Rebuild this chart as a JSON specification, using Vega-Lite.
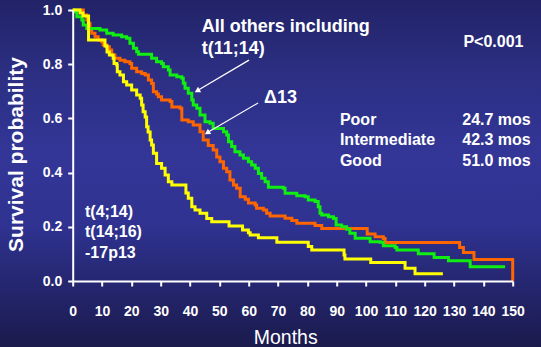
{
  "$schema": "https://vega.github.io/schema/vega-lite/v6.json",
  "width": 440,
  "height": 271,
  "autosize": {"type": "none"},
  "padding": {"left": 72.7, "top": 10, "right": 28.3, "bottom": 66},
  "background": "#2a2c80",
  "config": {"view": {"stroke": null}, "font": "Liberation Sans"},
  "resolve": {"axis": {"x": "independent", "y": "independent"}},
  "datasets": {
    "km": [
      {"g":"Intermediate","t":0,"s":1},
      {"g":"Intermediate","t":3.6,"s":0.982},
      {"g":"Intermediate","t":4.8,"s":0.963},
      {"g":"Intermediate","t":5.3,"s":0.951},
      {"g":"Intermediate","t":5.9,"s":0.926},
      {"g":"Intermediate","t":6.5,"s":0.914},
      {"g":"Intermediate","t":7.6,"s":0.901},
      {"g":"Intermediate","t":8.7,"s":0.889},
      {"g":"Intermediate","t":9.9,"s":0.883},
      {"g":"Intermediate","t":10.4,"s":0.871},
      {"g":"Intermediate","t":11.6,"s":0.864},
      {"g":"Intermediate","t":12.5,"s":0.852},
      {"g":"Intermediate","t":13.3,"s":0.834},
      {"g":"Intermediate","t":14.4,"s":0.822},
      {"g":"Intermediate","t":16.1,"s":0.815},
      {"g":"Intermediate","t":17.8,"s":0.809},
      {"g":"Intermediate","t":19.5,"s":0.803},
      {"g":"Intermediate","t":20.1,"s":0.785},
      {"g":"Intermediate","t":21.8,"s":0.772},
      {"g":"Intermediate","t":23.5,"s":0.766},
      {"g":"Intermediate","t":24.7,"s":0.760},
      {"g":"Intermediate","t":25.8,"s":0.742},
      {"g":"Intermediate","t":26.9,"s":0.729},
      {"g":"Intermediate","t":27.5,"s":0.698},
      {"g":"Intermediate","t":28.6,"s":0.690},
      {"g":"Intermediate","t":29.2,"s":0.680},
      {"g":"Intermediate","t":30.3,"s":0.668},
      {"g":"Intermediate","t":33.2,"s":0.662},
      {"g":"Intermediate","t":33.8,"s":0.642},
      {"g":"Intermediate","t":36.6,"s":0.637},
      {"g":"Intermediate","t":37.2,"s":0.594},
      {"g":"Intermediate","t":39.4,"s":0.588},
      {"g":"Intermediate","t":41.1,"s":0.576},
      {"g":"Intermediate","t":43.4,"s":0.551},
      {"g":"Intermediate","t":44.5,"s":0.520},
      {"g":"Intermediate","t":46.2,"s":0.500},
      {"g":"Intermediate","t":47.9,"s":0.483},
      {"g":"Intermediate","t":49.1,"s":0.458},
      {"g":"Intermediate","t":50.2,"s":0.440},
      {"g":"Intermediate","t":51.4,"s":0.416},
      {"g":"Intermediate","t":52.5,"s":0.403},
      {"g":"Intermediate","t":53.6,"s":0.373},
      {"g":"Intermediate","t":54.8,"s":0.354},
      {"g":"Intermediate","t":55.9,"s":0.342},
      {"g":"Intermediate","t":57.1,"s":0.311},
      {"g":"Intermediate","t":58.8,"s":0.302},
      {"g":"Intermediate","t":59.9,"s":0.288},
      {"g":"Intermediate","t":62.2,"s":0.280},
      {"g":"Intermediate","t":62.7,"s":0.268},
      {"g":"Intermediate","t":65.0,"s":0.262},
      {"g":"Intermediate","t":66.1,"s":0.250},
      {"g":"Intermediate","t":67.3,"s":0.240},
      {"g":"Intermediate","t":72.4,"s":0.232},
      {"g":"Intermediate","t":74.7,"s":0.223},
      {"g":"Intermediate","t":76.4,"s":0.213},
      {"g":"Intermediate","t":82.6,"s":0.205},
      {"g":"Intermediate","t":84.9,"s":0.194},
      {"g":"Intermediate","t":100.4,"s":0.173},
      {"g":"Intermediate","t":103.1,"s":0.163},
      {"g":"Intermediate","t":105.9,"s":0.157},
      {"g":"Intermediate","t":106.5,"s":0.142},
      {"g":"Intermediate","t":131.9,"s":0.124},
      {"g":"Intermediate","t":133.2,"s":0.105},
      {"g":"Intermediate","t":136.8,"s":0.079},
      {"g":"Intermediate","t":150,"s":0},
      {"g":"Good","t":0,"s":1},
      {"g":"Good","t":0.8,"s":0.994},
      {"g":"Good","t":1.4,"s":0.975},
      {"g":"Good","t":3.1,"s":0.963},
      {"g":"Good","t":3.6,"s":0.945},
      {"g":"Good","t":4.8,"s":0.932},
      {"g":"Good","t":9.3,"s":0.926},
      {"g":"Good","t":11.6,"s":0.914},
      {"g":"Good","t":13.8,"s":0.908},
      {"g":"Good","t":16.7,"s":0.901},
      {"g":"Good","t":18.4,"s":0.896},
      {"g":"Good","t":19.5,"s":0.877},
      {"g":"Good","t":20.7,"s":0.859},
      {"g":"Good","t":21.8,"s":0.846},
      {"g":"Good","t":22.4,"s":0.837},
      {"g":"Good","t":26.9,"s":0.822},
      {"g":"Good","t":28.6,"s":0.809},
      {"g":"Good","t":30.3,"s":0.803},
      {"g":"Good","t":30.9,"s":0.791},
      {"g":"Good","t":32.6,"s":0.779},
      {"g":"Good","t":33.2,"s":0.760},
      {"g":"Good","t":35.5,"s":0.754},
      {"g":"Good","t":37.2,"s":0.748},
      {"g":"Good","t":37.7,"s":0.730},
      {"g":"Good","t":38.3,"s":0.711},
      {"g":"Good","t":39.4,"s":0.693},
      {"g":"Good","t":40.6,"s":0.668},
      {"g":"Good","t":41.1,"s":0.649},
      {"g":"Good","t":42.3,"s":0.637},
      {"g":"Good","t":43.4,"s":0.613},
      {"g":"Good","t":45.1,"s":0.588},
      {"g":"Good","t":46.8,"s":0.582},
      {"g":"Good","t":47.9,"s":0.563},
      {"g":"Good","t":51.4,"s":0.551},
      {"g":"Good","t":52.5,"s":0.539},
      {"g":"Good","t":53.1,"s":0.514},
      {"g":"Good","t":54.2,"s":0.496},
      {"g":"Good","t":55.3,"s":0.477},
      {"g":"Good","t":57.0,"s":0.465},
      {"g":"Good","t":58.2,"s":0.453},
      {"g":"Good","t":59.9,"s":0.440},
      {"g":"Good","t":61.0,"s":0.428},
      {"g":"Good","t":62.2,"s":0.416},
      {"g":"Good","t":63.3,"s":0.397},
      {"g":"Good","t":64.4,"s":0.379},
      {"g":"Good","t":65.6,"s":0.366},
      {"g":"Good","t":66.7,"s":0.346},
      {"g":"Good","t":71.8,"s":0.342},
      {"g":"Good","t":72.4,"s":0.324},
      {"g":"Good","t":76.4,"s":0.315},
      {"g":"Good","t":79.2,"s":0.311},
      {"g":"Good","t":80.3,"s":0.299},
      {"g":"Good","t":82.6,"s":0.293},
      {"g":"Good","t":83.7,"s":0.274},
      {"g":"Good","t":84.3,"s":0.250},
      {"g":"Good","t":84.9,"s":0.244},
      {"g":"Good","t":87.2,"s":0.237},
      {"g":"Good","t":88.9,"s":0.231},
      {"g":"Good","t":89.8,"s":0.207},
      {"g":"Good","t":91.7,"s":0.200},
      {"g":"Good","t":93.4,"s":0.191},
      {"g":"Good","t":94.5,"s":0.176},
      {"g":"Good","t":96.3,"s":0.158},
      {"g":"Good","t":101.4,"s":0.145},
      {"g":"Good","t":104.8,"s":0.143},
      {"g":"Good","t":105.9,"s":0.130},
      {"g":"Good","t":109.9,"s":0.124},
      {"g":"Good","t":110.5,"s":0.114},
      {"g":"Good","t":117.8,"s":0.101},
      {"g":"Good","t":123.2,"s":0.087},
      {"g":"Good","t":128.1,"s":0.075},
      {"g":"Good","t":135.5,"s":0.053},
      {"g":"Good","t":147.4,"s":0.053},
      {"g":"Poor","t":0,"s":1},
      {"g":"Poor","t":2.5,"s":0.989},
      {"g":"Poor","t":3.5,"s":0.978},
      {"g":"Poor","t":5.4,"s":0.889},
      {"g":"Poor","t":11.0,"s":0.867},
      {"g":"Poor","t":11.7,"s":0.845},
      {"g":"Poor","t":12.5,"s":0.834},
      {"g":"Poor","t":13.8,"s":0.822},
      {"g":"Poor","t":14.1,"s":0.803},
      {"g":"Poor","t":15.0,"s":0.797},
      {"g":"Poor","t":15.2,"s":0.772},
      {"g":"Poor","t":16.1,"s":0.760},
      {"g":"Poor","t":17.3,"s":0.735},
      {"g":"Poor","t":18.4,"s":0.723},
      {"g":"Poor","t":20.1,"s":0.705},
      {"g":"Poor","t":21.8,"s":0.686},
      {"g":"Poor","t":23.0,"s":0.674},
      {"g":"Poor","t":23.5,"s":0.649},
      {"g":"Poor","t":24.0,"s":0.625},
      {"g":"Poor","t":24.7,"s":0.605},
      {"g":"Poor","t":25.2,"s":0.569},
      {"g":"Poor","t":25.7,"s":0.550},
      {"g":"Poor","t":26.4,"s":0.520},
      {"g":"Poor","t":26.9,"s":0.502},
      {"g":"Poor","t":27.5,"s":0.471},
      {"g":"Poor","t":28.6,"s":0.434},
      {"g":"Poor","t":30.3,"s":0.416},
      {"g":"Poor","t":31.5,"s":0.391},
      {"g":"Poor","t":32.6,"s":0.366},
      {"g":"Poor","t":33.8,"s":0.354},
      {"g":"Poor","t":38.6,"s":0.325},
      {"g":"Poor","t":39.4,"s":0.305},
      {"g":"Poor","t":40.6,"s":0.274},
      {"g":"Poor","t":41.7,"s":0.262},
      {"g":"Poor","t":43.4,"s":0.250},
      {"g":"Poor","t":45.7,"s":0.231},
      {"g":"Poor","t":47.4,"s":0.219},
      {"g":"Poor","t":53.3,"s":0.203},
      {"g":"Poor","t":57.9,"s":0.188},
      {"g":"Poor","t":59.9,"s":0.178},
      {"g":"Poor","t":60.5,"s":0.170},
      {"g":"Poor","t":63.3,"s":0.160},
      {"g":"Poor","t":69.6,"s":0.143},
      {"g":"Poor","t":80.3,"s":0.127},
      {"g":"Poor","t":81.5,"s":0.114},
      {"g":"Poor","t":92.5,"s":0.096},
      {"g":"Poor","t":92.8,"s":0.081},
      {"g":"Poor","t":101.6,"s":0.068},
      {"g":"Poor","t":113.3,"s":0.047},
      {"g":"Poor","t":116.7,"s":0.027},
      {"g":"Poor","t":126.2,"s":0.027}
    ]
  },
  "layer": [
    {
      "data": {"values": [{}]},
      "mark": {
        "type": "rect",
        "fill": {
          "gradient": "linear", "x1": 0, "y1": 0, "x2": 0, "y2": 1,
          "stops": [
            {"offset": 0, "color": "#212266"},
            {"offset": 0.2, "color": "#2b2e80"},
            {"offset": 0.45, "color": "#333697"},
            {"offset": 0.65, "color": "#2f3290"},
            {"offset": 0.85, "color": "#232469"},
            {"offset": 1, "color": "#1a1a4c"}
          ]
        }
      },
      "encoding": {
        "x": {"datum": -26, "type": "quantitative", "scale": {"domain": [0, 150], "nice": false}, "axis": null},
        "x2": {"datum": 161},
        "y": {"datum": 1.05, "type": "quantitative", "scale": {"domain": [0, 1], "nice": false}, "axis": null},
        "y2": {"datum": -0.25}
      }
    },
    {
      "data": {"name": "km"},
      "mark": {"type": "line", "interpolate": "step-after", "strokeWidth": 3},
      "encoding": {
        "x": {
          "field": "t", "type": "quantitative",
          "scale": {"domain": [0, 150], "nice": false},
          "axis": {
            "orient": "bottom",
            "zindex": 1,
            "values": [0,10,20,30,40,50,60,70,80,90,100,110,120,130,140,150],
            "format": "d",
            "domainColor": "white", "domainWidth": 2,
            "tickColor": "white", "tickWidth": 2, "tickSize": 5,
            "labelColor": "white", "labelFont": "Liberation Sans", "labelFontWeight": "bold", "labelFontSize": 14,
            "labelPadding": 18, "labelFlush": false, "labelOverlap": false,
            "grid": false,
            "title": "Months", "titleColor": "white", "titleFont": "Liberation Sans", "titleFontWeight": "normal", "titleFontSize": 19.5,
            "titleX": 212.5, "titleY": 62, "titleAlign": "center", "titleBaseline": "alphabetic"
          }
        },
        "y": {
          "field": "s", "type": "quantitative",
          "scale": {"domain": [0, 1], "nice": false},
          "axis": {
            "orient": "left",
            "zindex": 1,
            "values": [0, 0.2, 0.4, 0.6, 0.8, 1],
            "format": ".1f",
            "domainColor": "white", "domainWidth": 2,
            "tickColor": "white", "tickWidth": 2, "tickSize": 5,
            "labelColor": "white", "labelFont": "Liberation Sans", "labelFontWeight": "bold", "labelFontSize": 14,
            "labelPadding": 6, "labelFlush": false, "labelOverlap": false,
            "grid": false,
            "title": "Survival probability", "titleColor": "white", "titleFont": "Liberation Sans", "titleFontWeight": "bold", "titleFontSize": 21,
            "titleX": -50.5, "titleY": 144, "titleAngle": -90, "titleAlign": "center", "titleBaseline": "alphabetic"
          }
        },
        "color": {
          "field": "g", "type": "nominal",
          "scale": {"domain": ["Intermediate", "Good", "Poor"], "range": ["#ff6600", "#11ee11", "#ffff00"]},
          "legend": null
        }
      }
    },
    {
      "data": {"values": [{}]},
      "mark": {"type": "rule", "color": "white", "strokeWidth": 1.2},
      "encoding": {
        "x": {"datum": 60.1, "type": "quantitative", "axis": null},
        "y": {"datum": 0.815, "type": "quantitative", "axis": null},
        "x2": {"datum": 42.4},
        "y2": {"datum": 0.702}
      }
    },
    {
      "data": {"values": [{}]},
      "mark": {"type": "rule", "color": "white", "strokeWidth": 1.2},
      "encoding": {
        "x": {"datum": 63.2, "type": "quantitative", "axis": null},
        "y": {"datum": 0.657, "type": "quantitative", "axis": null},
        "x2": {"datum": 45.8},
        "y2": {"datum": 0.547}
      }
    },
    {
      "data": {"values": [{}]},
      "mark": {"type": "point", "shape": "triangle-up", "filled": true, "color": "white", "opacity": 1, "size": 40, "angle": 240},
      "encoding": {
        "x": {"datum": 42.44, "type": "quantitative", "axis": null},
        "y": {"datum": 0.702, "type": "quantitative", "axis": null}
      }
    },
    {
      "data": {"values": [{}]},
      "mark": {"type": "point", "shape": "triangle-up", "filled": true, "color": "white", "opacity": 1, "size": 40, "angle": 238},
      "encoding": {
        "x": {"datum": 45.86, "type": "quantitative", "axis": null},
        "y": {"datum": 0.547, "type": "quantitative", "axis": null}
      }
    },
    {
      "data": {"values": [{}]},
      "mark": {"type": "text", "text": ["All others including", "t(11;14)"], "align": "left", "baseline": "alphabetic", "color": "white", "font": "Liberation Sans", "fontWeight": "bold", "fontSize": 18, "lineHeight": 22.3},
      "encoding": {
        "x": {"datum": 44.0, "type": "quantitative", "axis": null},
        "y": {"datum": 0.920, "type": "quantitative", "axis": null}
      }
    },
    {
      "data": {"values": [{}]},
      "mark": {"type": "text", "text": "Δ13", "align": "left", "baseline": "alphabetic", "color": "white", "font": "Liberation Sans", "fontWeight": "bold", "fontSize": 18},
      "encoding": {
        "x": {"datum": 65.2, "type": "quantitative", "axis": null},
        "y": {"datum": 0.657, "type": "quantitative", "axis": null}
      }
    },
    {
      "data": {"values": [{}]},
      "mark": {"type": "text", "text": "P<0.001", "align": "left", "baseline": "alphabetic", "color": "white", "font": "Liberation Sans", "fontWeight": "bold", "fontSize": 16},
      "encoding": {
        "x": {"datum": 133.2, "type": "quantitative", "axis": null},
        "y": {"datum": 0.862, "type": "quantitative", "axis": null}
      }
    },
    {
      "data": {"values": [{}]},
      "mark": {"type": "text", "text": ["Poor", "Intermediate", "Good"], "align": "left", "baseline": "alphabetic", "color": "white", "font": "Liberation Sans", "fontWeight": "bold", "fontSize": 16, "lineHeight": 20.4},
      "encoding": {
        "x": {"datum": 91.1, "type": "quantitative", "axis": null},
        "y": {"datum": 0.576, "type": "quantitative", "axis": null}
      }
    },
    {
      "data": {"values": [{}]},
      "mark": {"type": "text", "text": ["24.7 mos", "42.3 mos", "51.0 mos"], "align": "left", "baseline": "alphabetic", "color": "white", "font": "Liberation Sans", "fontWeight": "bold", "fontSize": 16, "lineHeight": 20.4},
      "encoding": {
        "x": {"datum": 132.8, "type": "quantitative", "axis": null},
        "y": {"datum": 0.576, "type": "quantitative", "axis": null}
      }
    },
    {
      "data": {"values": [{}]},
      "mark": {"type": "text", "text": ["t(4;14)", "t(14;16)", "-17p13"], "align": "left", "baseline": "alphabetic", "color": "white", "font": "Liberation Sans", "fontWeight": "bold", "fontSize": 16, "lineHeight": 20.5},
      "encoding": {
        "x": {"datum": 4.2, "type": "quantitative", "axis": null},
        "y": {"datum": 0.237, "type": "quantitative", "axis": null}
      }
    }
  ]
}
